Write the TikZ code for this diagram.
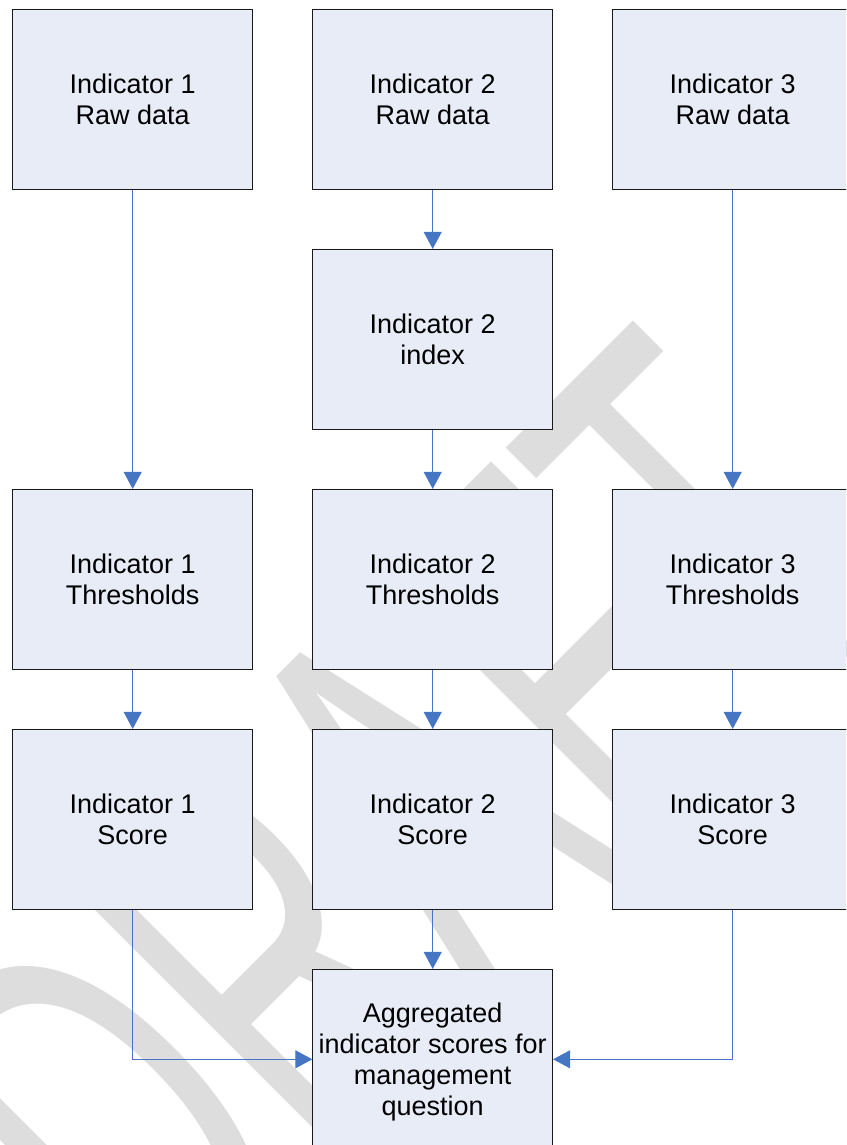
\documentclass[tikz,border=0pt]{standalone}
\usepackage{fontspec}
\setmainfont{Liberation Sans}
\usetikzlibrary{arrows.meta}
\definecolor{boxfill}{RGB}{231,236,247}
\definecolor{flow}{RGB}{70,118,195}
\definecolor{wmgray}{RGB}{221,221,221}
\begin{document}
\begin{tikzpicture}[x=1pt,y=-1pt,
  stage/.style={draw=black!90, line width=0.8pt, fill=boxfill,
    minimum width=240pt, minimum height=180pt, inner sep=0pt,
    align=center, font=\fontsize{27}{31}\selectfont},
  conn/.style={draw=flow, line width=0.9pt,
    -{Triangle[width=18pt,length=17pt]}}]
\useasboundingbox (0,0) rectangle (846,1145);
\clip (0,0) rectangle (846,1145);
\fill[white] (0,0) rectangle (846,1145);

% watermark behind everything
\node[rotate=45, text=wmgray, inner sep=0pt] (wm) at (401,828)
  {\fontsize{318}{318}\selectfont\scalebox{1}[1.78]{DRAFT}};

% stages
\node[stage] (r1) at (132.7,99.3) {Indicator 1\\Raw data};
\node[stage] (r2) at (432.7,99.3) {Indicator 2\\Raw data};
\node[stage] (r3) at (732.7,99.3) {Indicator 3\\Raw data};
\node[stage] (i2) at (432.7,339.3) {Indicator 2\\index};
\node[stage] (t1) at (132.7,579.3) {Indicator 1\\Thresholds};
\node[stage] (t2) at (432.7,579.3) {Indicator 2\\Thresholds};
\node[stage] (t3) at (732.7,579.3) {Indicator 3\\Thresholds};
\node[stage] (s1) at (132.7,819.3) {Indicator 1\\Score};
\node[stage] (s2) at (432.7,819.3) {Indicator 2\\Score};
\node[stage] (s3) at (732.7,819.3) {Indicator 3\\Score};
\node[stage, text depth=0pt] (agg) at (432.7,1059.3)
  {Aggregated\\indicator scores for\\management\\question};

% flow
\draw[conn] (r1.south) -- (t1.north);
\draw[conn] (r2.south) -- (i2.north);
\draw[conn] (i2.south) -- (t2.north);
\draw[conn] (r3.south) -- (t3.north);
\draw[conn] (t1.south) -- (s1.north);
\draw[conn] (t2.south) -- (s2.north);
\draw[conn] (t3.south) -- (s3.north);
\draw[conn] (s2.south) -- (agg.north);
\draw[conn] (s1.south) |- (agg.west);
\draw[conn] (s3.south) |- (agg.east);
\end{tikzpicture}
\end{document}
